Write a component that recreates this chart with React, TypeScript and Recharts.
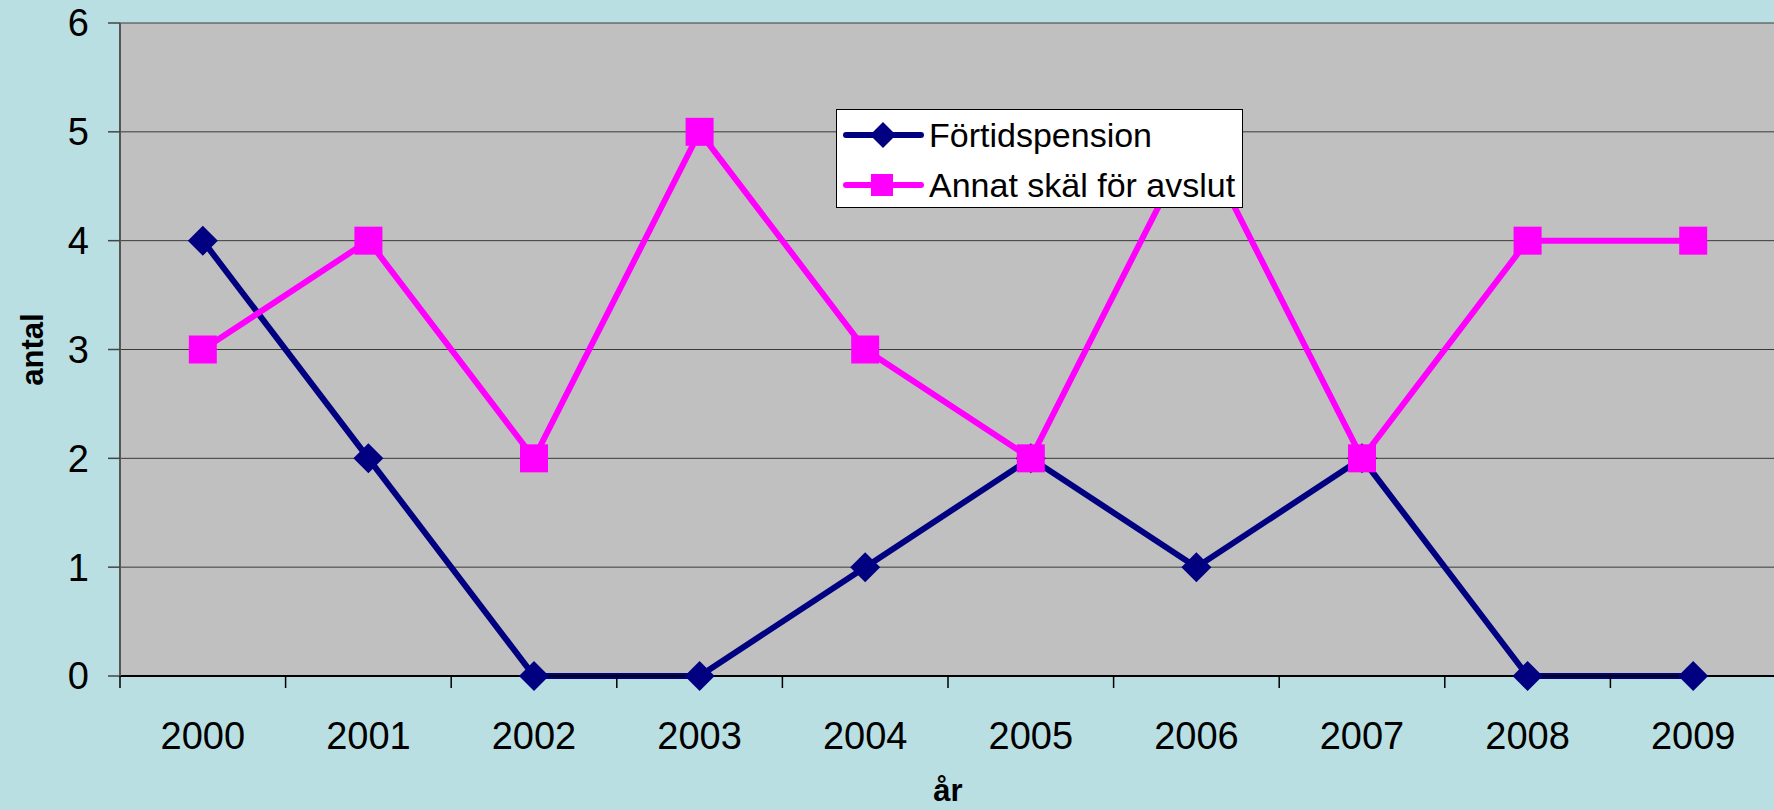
import React from "react";
import { LineChart, Line, XAxis, YAxis, CartesianGrid, Legend, Label } from "recharts";

const years = ["2000", "2001", "2002", "2003", "2004", "2005", "2006", "2007", "2008", "2009"];
const fortidspension = [4, 2, 0, 0, 1, 2, 1, 2, 0, 0];
const annatSkal = [3, 4, 2, 5, 3, 2, 5, 2, 4, 4];
const yTicks = [0, 1, 2, 3, 4, 5, 6];

const data = years.map((year, idx) => ({
  idx,
  year,
  fortid: fortidspension[idx],
  annat: annatSkal[idx],
}));

// year labels at the centres, short tick lines at the half steps between years
const xTicks: number[] = [-0.5];
years.forEach((_, i) => xTicks.push(i, i + 0.5));

const FONT = '"Liberation Sans", Arial, sans-serif';
const NAVY = "#000080";
const MAGENTA = "#FF00FF";

const Diamond = (p: any) => {
  const { cx, cy, index } = p;
  if (cx == null || cy == null) return <g key={index} />;
  return (
    <path
      key={index}
      d={`M${cx},${cy - 15}L${cx + 15},${cy}L${cx},${cy + 15}L${cx - 15},${cy}Z`}
      fill={NAVY}
    />
  );
};

const Square = (p: any) => {
  const { cx, cy, index } = p;
  if (cx == null || cy == null) return <g key={index} />;
  return <rect key={index} x={cx - 14} y={cy - 14} width={28} height={28} fill={MAGENTA} />;
};

const YearTick = (p: any) => {
  const { x, y, payload } = p;
  const v = payload.value as number;
  if (!Number.isInteger(v)) {
    return <line x1={x} x2={x} y1={y} y2={y + 12} stroke="#000" strokeWidth={1.5} />;
  }
  return (
    <text x={x} y={y + 46} dy="0.71em" textAnchor="middle" fill="#000" fontSize={38} fontFamily={FONT}>
      {years[v]}
    </text>
  );
};

const legendItems = [
  { name: "Förtidspension", color: NAVY, shape: "diamond" },
  { name: "Annat skäl för avslut", color: MAGENTA, shape: "square" },
];

function LegendBox() {
  return (
    <div
      style={{
        width: 405,
        height: 97,
        background: "#fff",
        border: "1px solid #000",
        fontFamily: FONT,
        fontSize: 34,
        color: "#000",
      }}
    >
      {legendItems.map((it) => (
        <div key={it.name} style={{ display: "flex", alignItems: "center", height: 50 }}>
          <svg width={92} height={50} style={{ flex: "none" }}>
            <line x1={9} x2={84} y1={25} y2={25} stroke={it.color} strokeWidth={6} strokeLinecap="round" />
            {it.shape === "diamond" ? (
              <path d="M46,12L59,25L46,38L33,25Z" fill={it.color} />
            ) : (
              <rect x={34} y={14} width={22} height={22} fill={it.color} />
            )}
          </svg>
          <span style={{ whiteSpace: "nowrap", lineHeight: "50px" }}>{it.name}</span>
        </div>
      ))}
    </div>
  );
}

export default function App() {
  return (
    <div
      style={{
        position: "fixed",
        left: 0,
        top: 0,
        width: 1774,
        height: 810,
        overflow: "hidden",
        background: "#B9DFE2",
      }}
    >
      <LineChart width={1780} height={810} data={data} margin={{ top: 23, right: 4, bottom: 0, left: 0 }}>
        <CartesianGrid vertical={false} fill="#C0C0C0" stroke="#3a3a3a" />
        <XAxis
          type="number"
          dataKey="idx"
          domain={[-0.5, 9.5]}
          ticks={xTicks}
          interval={0}
          height={134}
          tickSize={0}
          tickMargin={0}
          tickLine={false}
          axisLine={{ stroke: "#000", strokeWidth: 2 }}
          tick={YearTick}
        >
          <Label
            value="år"
            position="insideBottom"
            offset={9}
            style={{ fontFamily: FONT, fontSize: 31, fontWeight: "bold", fill: "#000" }}
          />
        </XAxis>
        <YAxis
          domain={[0, 6]}
          ticks={yTicks}
          width={120}
          interval={0}
          tickSize={12}
          tickMargin={19}
          tickLine={{ stroke: "#444", strokeWidth: 1.5 }}
          axisLine={{ stroke: "#555", strokeWidth: 2 }}
          tick={{ fill: "#000", fontSize: 38, fontFamily: FONT }}
        >
          <Label
            content={(props: any) => {
              const vb = props.viewBox || { x: 0, y: 0, width: 120, height: 653 };
              const x = vb.x + 43;
              const y = vb.y + vb.height / 2;
              return (
                <text
                  x={x}
                  y={y}
                  transform={`rotate(-90, ${x}, ${y})`}
                  textAnchor="middle"
                  style={{ fontFamily: FONT, fontSize: 31, fontWeight: "bold", fill: "#000" }}
                >
                  antal
                </text>
              );
            }}
          />
        </YAxis>
        <Legend
          layout="vertical"
          align="center"
          verticalAlign="middle"
          content={() => <LegendBox />}
          wrapperStyle={{ left: 836, top: 109, width: 407, height: 99 }}
        />
        <Line
          type="linear"
          dataKey="fortid"
          name="Förtidspension"
          stroke={NAVY}
          strokeWidth={6}
          dot={Diamond}
          activeDot={false}
          isAnimationActive={false}
        />
        <Line
          type="linear"
          dataKey="annat"
          name="Annat skäl för avslut"
          stroke={MAGENTA}
          strokeWidth={6}
          dot={Square}
          activeDot={false}
          isAnimationActive={false}
        />
      </LineChart>
    </div>
  );
}
